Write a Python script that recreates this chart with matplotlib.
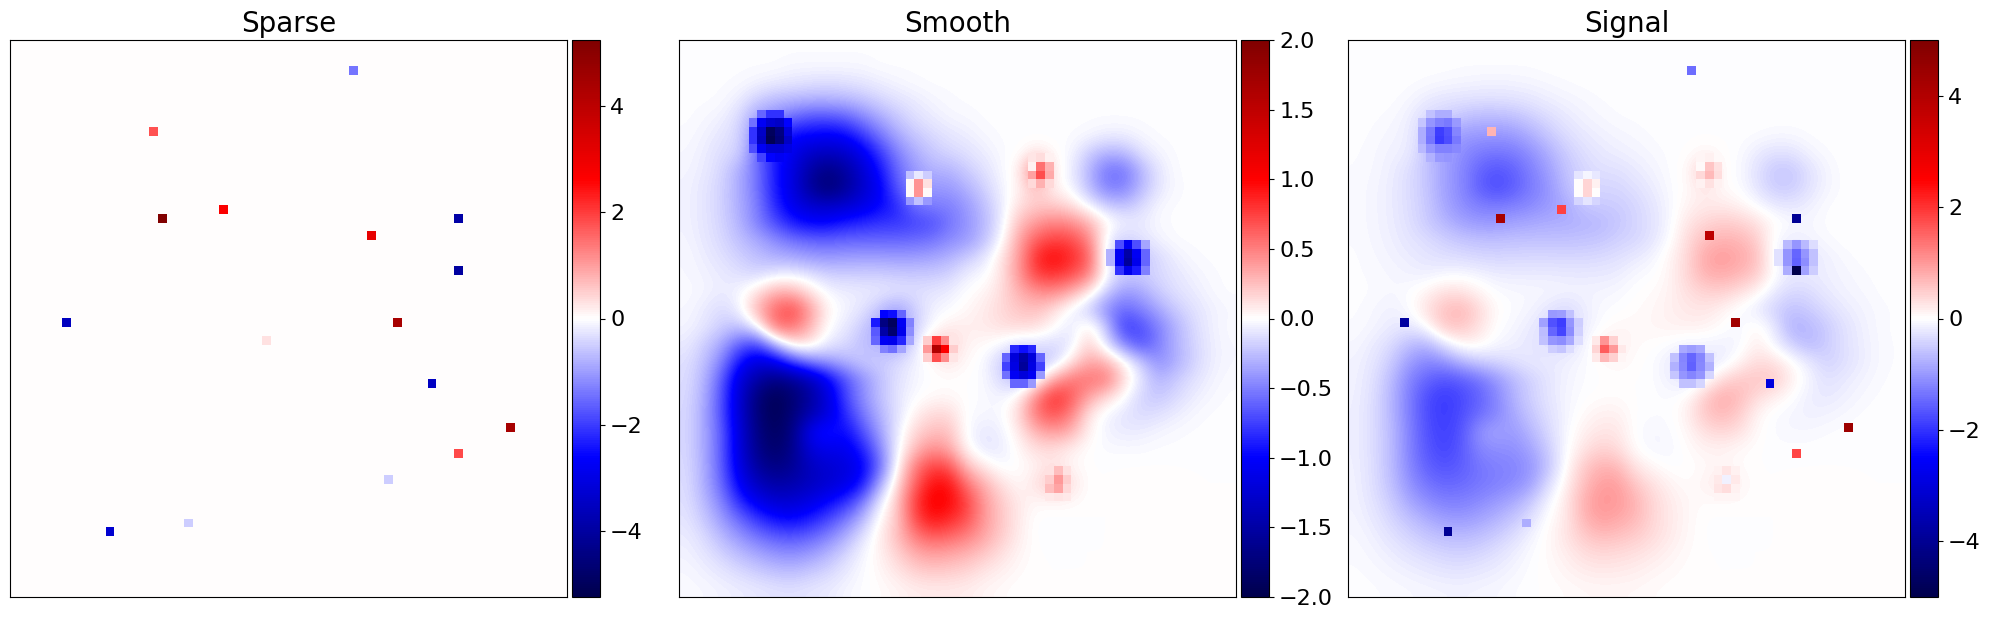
import numpy as np
import matplotlib
matplotlib.use("Agg")
import matplotlib.pyplot as plt

titles = ["Sparse", "Smooth", "Signal"]
limits = [5.25, 2.0, 5.0]
ticks_sparse = [-4, -2, 0, 2, 4]
ticks_smooth = [-2.0, -1.5, -1.0, -0.5, 0.0, 0.5, 1.0, 1.5, 2.0]
ticks_signal = [-4, -2, 0, 2, 4]
GRID = 64

sparse_rows = [3, 10, 20, 19, 20, 22, 26, 32, 32, 34, 39, 44, 47, 50, 56, 55]
sparse_cols = [39, 16, 17, 24, 51, 41, 51, 6, 44, 29, 48, 57, 51, 43, 11, 20]
sparse_vals = [-1.43, 1.79, 5.2, 2.7, -3.9, 3.1, -4.0, -3.55, 4.4, 0.29, -3.5, 4.4, 1.85, -0.52, -3.3, -0.52]

# Smooth field on a 32 x 32 lattice (each entry spans 2 x 2 pixels of the 64 grid).
# Cells under the small blobs hold the surrounding level; the blobs themselves are in the detail lists below.
smooth_coarse = [
 [-.01]*32,
 [-.01,-.01,-.01,-.01,-.01,-.01,-.03,-.03,-.03,-.03,-.03,-.01,-.01,-.01,-.01,-.01]+[-.01]*16,
 [-.01,-.01,-.01,-.02,-.05,-.08,-.10,-.12,-.14,-.12,-.10,-.07,-.04,-.02,-.01,-.01]+[-.01]*16,
 [-.01,-.01,-.02,-.08,-.20,-.28,-.30,-.32,-.32,-.30,-.25,-.17,-.12,-.08,-.04,-.02]+[-.01]*16,
 [-.01,-.03,-.06,-.15,-.40,-.45,-.60,-.70,-.70,-.65,-.50,-.35,-.22,-.13,-.08,-.04,-.03,-.01,-.01,-.01,-.01,-.01,-.01,-.01,-.01,-.01,-.01,-.01,-.01,-.01,-.01,-.01],
 [-.02,-.05,-.10,-.17,-.50,-.80,-1.0,-1.0,-1.05,-1.0,-.80,-.55,-.35,-.22,-.15,-.10,-.07,-.03,-.01,-.01,-.01,-.01,-.01,-.03,-.07,-.07,-.03,-.01,-.01,-.01,-.01,-.01],
 [-.03,-.07,-.14,-.17,-.60,-.90,-1.1,-1.3,-1.35,-1.3,-1.1,-.80,-.50,-.33,-.22,-.16,-.12,-.07,-.02,0,.10,.02,-.03,-.20,-.30,-.28,-.12,-.04,-.01,-.01,-.01,-.01],
 [-.04,-.08,-.16,-.33,-.55,-.90,-1.15,-1.5,-1.7,-1.55,-1.25,-.95,-.60,-.40,-.30,-.30,-.20,-.12,-.03,.05,.60,.05,-.06,-.28,-.55,-.55,-.30,-.10,-.01,-.01,-.01,-.01],
 [-.05,-.10,-.18,-.33,-.55,-.90,-1.15,-1.55,-1.8,-1.6,-1.3,-1.05,-.65,-.45,-.40,-.40,-.30,-.18,-.05,.05,.25,.05,-.03,-.25,-.50,-.50,-.28,-.10,-.02,-.01,-.01,-.01],
 [-.05,-.10,-.18,-.33,-.50,-.85,-1.1,-1.25,-1.3,-1.25,-1.15,-1.0,-.85,-.55,-.50,-.50,-.40,-.25,-.08,.12,.20,.20,.12,-.05,-.20,-.25,-.15,-.03,-.01,-.01,-.01,-.01],
 [-.05,-.10,-.17,-.30,-.50,-.70,-.90,-1.0,-1.0,-.90,-.85,-.80,-.80,-.75,-.70,-.55,-.42,-.28,-.08,.25,.40,.50,.45,.30,.05,-.05,-.08,-.02,-.01,-.01,-.01,-.01],
 [-.04,-.09,-.15,-.25,-.33,-.45,-.55,-.60,-.62,-.60,-.60,-.60,-.60,-.58,-.55,-.45,-.40,-.25,-.02,.35,.65,.75,.72,.50,-.05,-.20,-.12,-.05,-.01,-.01,-.01,-.01],
 [-.03,-.07,-.12,-.18,-.25,-.30,-.33,-.38,-.40,-.38,-.37,-.37,-.38,-.38,-.35,-.30,-.20,-.10,.10,.38,.85,1.0,.85,.65,-.10,-.30,-.25,-.15,-.06,-.02,-.01,-.01],
 [-.03,-.05,-.08,-.12,-.15,-.08,-.05,-.10,-.17,-.18,-.18,-.18,-.20,-.20,-.20,-.17,-.06,-.02,.10,.40,.75,.80,.70,.50,-.02,-.20,-.20,-.15,-.10,-.05,-.02,-.01],
 [-.02,-.04,-.08,-.03,.12,.32,.30,.12,-.03,-.06,-.07,-.08,-.10,-.12,-.10,-.07,0,.04,.13,.30,.42,.45,.30,.08,-.20,-.40,-.35,-.20,-.12,-.08,-.03,-.01],
 [-.03,-.08,-.15,-.05,.30,.60,.75,.40,.05,-.04,-.10,-.25,-.40,-.20,-.05,-.02,.03,.08,.15,.22,.25,.12,-.05,-.20,-.45,-.60,-.50,-.35,-.20,-.12,-.06,-.03],
 [-.04,-.10,-.20,-.25,-.03,.55,.55,.30,0,-.08,-.20,-.35,-.45,-.20,-.02,.08,.07,.08,.12,.15,.12,.02,-.10,.10,-.20,-.80,-.70,-.50,-.30,-.15,-.06,-.02],
 [-.08,-.20,-.35,-.65,-.75,-.30,.10,.10,-.08,-.14,-.25,-.30,-.35,-.15,.20,.20,.04,.02,-.03,-.15,-.12,-.15,-.10,.20,-.10,-.45,-.70,-.50,-.30,-.17,-.07,-.03],
 [-.12,-.25,-.50,-.95,-1.2,-1.1,-.75,-.50,-.40,-.30,-.20,-.20,-.15,-.05,.02,.10,.02,-.02,-.20,-.30,-.25,-.20,.10,.35,.30,.05,-.20,-.45,-.32,-.18,-.07,-.03],
 [-.13,-.30,-.65,-1.2,-1.5,-1.7,-1.6,-1.4,-1.05,-.70,-.45,-.25,-.12,-.04,0,0,0,-.02,-.15,-.30,-.10,.35,.55,.55,.55,.15,-.10,-.30,-.20,-.12,-.05,-.02],
 [-.14,-.33,-.70,-1.25,-1.75,-1.95,-1.8,-1.55,-1.2,-.75,-.45,-.25,-.10,-.02,.02,.03,0,-.02,-.05,.05,.50,.85,.65,.35,.15,0,-.17,-.22,-.15,-.07,-.03,-.01],
 [-.15,-.35,-.70,-1.25,-1.75,-1.95,-1.75,-1.45,-1.2,-.85,-.55,-.30,-.12,.05,.15,.15,-.01,-.03,-.03,.15,.55,.70,.50,.10,-.05,-.10,-.15,-.12,-.07,-.03,-.01,-.01],
 [-.15,-.35,-.65,-1.2,-1.7,-1.9,-1.7,-1.05,-.88,-1.0,-.70,-.38,-.08,.15,.25,.25,-.02,-.10,-.06,.08,.30,.40,.30,.05,-.05,-.08,-.07,-.04,-.02,-.01,-.01,-.01],
 [-.15,-.35,-.65,-1.2,-1.65,-1.85,-1.65,-1.2,-1.1,-1.1,-.90,-.50,-.05,.25,.45,.35,.02,-.10,-.08,.03,.13,.12,.06,0,-.02,-.02,-.02,-.01,-.01,-.01,-.01,-.01],
 [-.14,-.33,-.65,-1.15,-1.55,-1.7,-1.6,-1.35,-1.25,-1.2,-1.05,-.60,0,.50,.75,.70,.25,.08,-.03,0,.05,.12,.03,0,0,0,0,0,0,0,0,0],
 [-.13,-.33,-.60,-1.05,-1.35,-1.5,-1.45,-1.35,-1.25,-1.15,-.95,-.35,.12,.60,.95,.95,.55,.30,.12,.02,.12,.25,.12,0,0,.01,.02,.02,.01,0,0,0],
 [-.12,-.28,-.50,-.85,-1.1,-1.25,-1.25,-1.15,-1.0,-.85,-.55,-.10,.20,.75,1.05,1.0,.75,.40,.20,.08,.03,.04,.03,0,0,0,0,0,0,0,0,0],
 [-.10,-.22,-.40,-.60,-.80,-.95,-1.0,-.90,-.75,-.55,-.30,.02,.20,.70,.95,.85,.70,.40,.22,.08,-.01,-.01,-.01,0,0,0,0,0,0,0,0,0],
 [-.07,-.15,-.28,-.42,-.55,-.65,-.68,-.62,-.50,-.33,-.12,.06,.25,.50,.65,.60,.50,.35,.20,.07,-.01,-.01,0,0,0,0,0,0,0,0,0,0],
 [-.05,-.10,-.18,-.27,-.35,-.42,-.45,-.40,-.30,-.17,-.04,.05,.17,.32,.38,.35,.30,.22,.12,.04,0,0,0,0,0,0,0,0,0,0,0,0],
 [-.03,-.06,-.10,-.15,-.20,-.25,-.27,-.22,-.17,-.09,-.02,.03,.10,.18,.22,.20,.17,.10,.06,.02,0,0,0,0,0,0,0,0,0,0,0,0],
 [-.02,-.03,-.05,-.07,-.09,-.11,-.12,-.10,-.08,-.04,-.01,.01,.04,.07,.08,.08,.07,.04,.02,0,0,0,0,0,0,0,0,0,0,0,0,0],
]

# Pixel-level details of the smooth field, too small for the 32 x 32 lattice: row, first column, values
dipole_a = [(34, 28, [.2, .75, .45, .1]), (35, 28, [.4, 1.6, 1.0, .2]), (36, 28, [.2, .7, .45, .1])]
halo_b = [(15, 26, [-.25, -.08, -.2]), (16, 26, [.03, .42, .12]), (17, 26, [.03, .42, .03]), (18, 26, [-.4, -.25, -.4])]
spot_c = [(13, 40, [.1, .13, .05]), (14, 40, [.05, .55, .3]), (15, 40, [.37, .7, .33]), (16, 40, [.15, .3, .15])]
blob_d = [(23, 50, [-.7, -1.05, -.7, -.35]),
          (24, 49, [-.3, -1.05, -1.5, -1.05, -.6]),
          (25, 49, [-.3, -1.05, -1.55, -1.1, -.6]),
          (26, 50, [-.8, -1.1, -.9, -.5])]
blob_e = [(31, 23, [-1.0, -.95, -.6]),
          (32, 22, [-.9, -1.7, -1.9, -1.05, -.5]),
          (33, 22, [-.65, -1.5, -1.8, -1.1, -.45]),
          (34, 22, [-.6, -1.05, -1.1, -.85, -.35]),
          (35, 23, [-.5, -.55, -.35])]
blob_f = [(35, 38, [-.85, -.95, -.85]),
          (36, 37, [-.6, -1.2, -1.5, -1.2, -.6]),
          (37, 37, [-.75, -1.15, -1.55, -1.15, -.75]),
          (38, 37, [-.55, -1.05, -1.2, -1.05, -.4]),
          (39, 38, [-.6, -.6, -.4])]
blob_g = [(8, 9, [-.6, -.8, -.8]),
          (9, 8, [-.55, -1.05, -1.25, -1.3, -1.0]),
          (10, 8, [-.8, -1.3, -1.9, -1.7, -1.2]),
          (11, 8, [-.8, -1.35, -1.95, -1.75, -1.3]),
          (12, 8, [-.7, -1.05, -1.25, -1.25, -1.15]),
          (13, 9, [-.75, -1.0, -1.05])]
spot_h = [(49, 42, [.12, .25, .12]), (50, 42, [.2, .4, .2]), (51, 42, [.25, .35, .15]), (52, 42, [.08, .1, .08])]
detail_groups = [dipole_a, halo_b, spot_c, blob_d, blob_e, blob_f, blob_g, spot_h]

fig_w, fig_h = 1989, 619
fig = plt.figure(figsize=(fig_w / 100, fig_h / 100), dpi=100)

coarse = np.array(smooth_coarse, dtype=float)
sparse = np.zeros((GRID, GRID))
sparse[sparse_rows, sparse_cols] = sparse_vals

fine_smooth = np.ma.masked_all((GRID, GRID))
for group in detail_groups:
    for row, first, values in group:
        for k, v in enumerate(values):
            fine_smooth[row, first + k] = v

sig_over = np.ma.masked_all((GRID, GRID))
for r, c, v in zip(sparse_rows, sparse_cols, sparse_vals):
    base = coarse[r // 2, c // 2] if fine_smooth.mask[r, c] else fine_smooth[r, c]
    sig_over[r, c] = v + base
for r, c in zip(*np.nonzero(~fine_smooth.mask)):
    sig_over[r, c] = fine_smooth[r, c] + sparse[r, c]

lefts = [10.4, 679.4, 1348.4]
side, gap, cw = 557.0, 5.0, 28.0
top, bottom = 40.0, 597.0
extent = (-0.5, GRID - 0.5, GRID - 0.5, -0.5)
tick_sets = [ticks_sparse, ticks_smooth, ticks_signal]

for i, left in enumerate(lefts):
    ax = fig.add_axes([left / fig_w, 1 - bottom / fig_h, side / fig_w, (bottom - top) / fig_h])
    lim = limits[i]
    kw = dict(cmap="seismic", vmin=-lim, vmax=lim, extent=extent, aspect="auto")
    if i == 0:
        im = ax.imshow(sparse, interpolation="nearest", **kw)
    else:
        im = ax.imshow(coarse, interpolation="bicubic", **kw)
        over = fine_smooth if i == 1 else sig_over
        ax.imshow(over, interpolation="nearest", **kw)
    ax.set_xlim(-0.5, GRID - 0.5)
    ax.set_ylim(GRID - 0.5, -0.5)
    ax.set_xticks([])
    ax.set_yticks([])
    ax.set_title(titles[i], fontsize=20)
    cax = fig.add_axes([(left + side + gap) / fig_w, 1 - bottom / fig_h, cw / fig_w, (bottom - top) / fig_h])
    cb = fig.colorbar(im, cax=cax)
    cb.set_ticks(tick_sets[i])
    cb.ax.tick_params(labelsize=16)

fig.savefig("out.png", dpi=100)
